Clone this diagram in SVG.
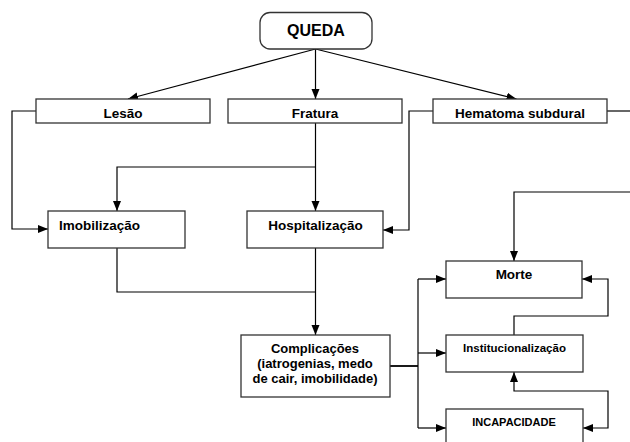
<svg xmlns="http://www.w3.org/2000/svg" width="630" height="442" viewBox="0 0 630 442">
<defs>
<style>
.box{fill:#fff;stroke:#333;stroke-width:1.3}
.lbl{font-family:"Liberation Sans",Arial,sans-serif;font-weight:bold;fill:#000;text-anchor:middle}
.c{fill:none;stroke:#000;stroke-width:1.2}
</style>
<marker id="ah" markerUnits="userSpaceOnUse" markerWidth="10" markerHeight="10" viewBox="0 0 10 10" refX="10" refY="5" orient="auto-start-reverse">
<path d="M0,1 L10,5 L0,9 Z" fill="#000"/>
</marker>
</defs>
<rect width="630" height="442" fill="#fff"/>
<g id="connectors">
<line class="c" x1="315.5" y1="49" x2="128" y2="99" marker-end="url(#ah)"/>
<line class="c" x1="315.5" y1="49" x2="315.5" y2="99" marker-end="url(#ah)"/>
<line class="c" x1="315.5" y1="49" x2="516.5" y2="99" marker-end="url(#ah)"/>
<polyline class="c" points="36,111 12,111 12,229 48,229" marker-end="url(#ah)"/>
<polyline class="c" points="315.5,123 315.5,211" marker-end="url(#ah)"/>
<polyline class="c" points="315.5,167 117,167 117,211" marker-end="url(#ah)"/>
<polyline class="c" points="433,111 409,111 409,230 383,230" marker-end="url(#ah)"/>
<line class="c" x1="607" y1="111" x2="630" y2="111"/>
<polyline class="c" points="117,248 117,292 315.5,292"/>
<polyline class="c" points="315.5,248 315.5,335" marker-end="url(#ah)"/>
<line class="c" x1="390" y1="366" x2="418" y2="366" style="stroke-width:1.8"/>
<line class="c" x1="418" y1="279" x2="418" y2="428"/>
<line class="c" x1="418" y1="279" x2="446" y2="279" marker-end="url(#ah)"/>
<line class="c" x1="418" y1="353" x2="446" y2="353" marker-end="url(#ah)"/>
<line class="c" x1="418" y1="428" x2="446" y2="428" marker-end="url(#ah)"/>
<polyline class="c" points="630,192 514,192 514,261" marker-end="url(#ah)"/>
<polyline class="c" points="514,335 514,316 608,316 608,279 582,279" marker-end="url(#ah)"/>
<polyline class="c" points="514,372 514,391 608,391 608,428 583,428" marker-start="url(#ah)" marker-end="url(#ah)"/>
</g>
<g id="queda">
<rect class="box" x="260" y="12.5" width="112" height="36.5" rx="10"/>
<text class="lbl" x="316" y="36" font-size="16">QUEDA</text>
</g>
<g id="lesao">
<rect class="box" x="36" y="99" width="174" height="24"/>
<text class="lbl" x="123" y="118" font-size="13.5">Lesão</text>
</g>
<g id="fratura">
<rect class="box" x="228" y="99" width="174" height="24"/>
<text class="lbl" x="315" y="118" font-size="13.5">Fratura</text>
</g>
<g id="hematoma">
<rect class="box" x="433" y="99" width="174" height="24"/>
<text class="lbl" x="520" y="118" font-size="13.5">Hematoma subdural</text>
</g>
<g id="imobilizacao">
<rect class="box" x="48" y="211" width="137" height="37"/>
<text class="lbl" x="59" y="230" font-size="13.5" style="text-anchor:start">Imobilização</text>
</g>
<g id="hospitalizacao">
<rect class="box" x="247" y="211" width="136" height="37"/>
<text class="lbl" x="315.5" y="230" font-size="13.5">Hospitalização</text>
</g>
<g id="complicacoes">
<rect class="box" x="241" y="335" width="149" height="62"/>
<text class="lbl" x="315" y="352.5" font-size="13">Complicações</text>
<text class="lbl" x="315" y="367.8" font-size="13">(iatrogenias, medo</text>
<text class="lbl" x="315" y="383.2" font-size="13">de cair, imobilidade)</text>
</g>
<g id="morte">
<rect class="box" x="446" y="261" width="136" height="37"/>
<text class="lbl" x="514" y="278.5" font-size="13.5">Morte</text>
</g>
<g id="institucionalizacao">
<rect class="box" x="446" y="335" width="137" height="37"/>
<text class="lbl" x="514.5" y="351.5" font-size="11.5">Institucionalização</text>
</g>
<g id="incapacidade">
<rect class="box" x="446" y="409" width="137" height="40"/>
<text class="lbl" x="514" y="426" font-size="11">INCAPACIDADE</text>
</g>
</svg>
